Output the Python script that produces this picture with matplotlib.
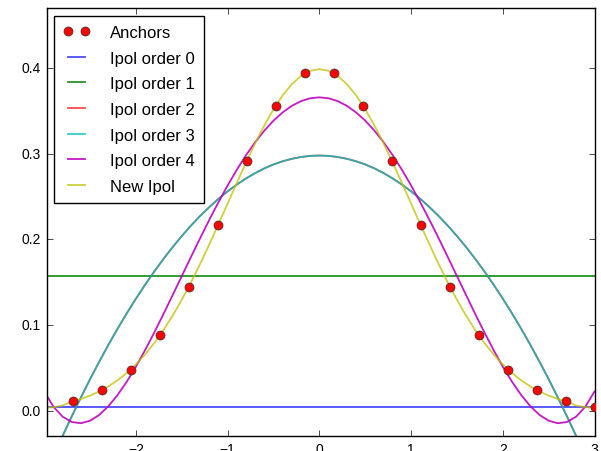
import numpy as np
import matplotlib
matplotlib.use("Agg")
import matplotlib.pyplot as plt

# anchor points
anchor_x = [-2.684, -2.368, -2.053, -1.737, -1.421, -1.105, -0.789, -0.474, -0.158,
            0.158, 0.474, 0.789, 1.105, 1.421, 1.737, 2.053, 2.368, 2.684, 3.0]
anchor_y = [0.011, 0.024, 0.048, 0.088, 0.145, 0.217, 0.292, 0.356, 0.394,
            0.394, 0.356, 0.292, 0.217, 0.145, 0.088, 0.048, 0.024, 0.011, 0.004]

# sample positions for the interpolation curves
curve_x = [-3.0, -2.9, -2.8, -2.7, -2.6, -2.5, -2.4, -2.3, -2.2, -2.1,
           -2.0, -1.9, -1.8, -1.7, -1.6, -1.5, -1.4, -1.3, -1.2, -1.1,
           -1.0, -0.9, -0.8, -0.7, -0.6, -0.5, -0.4, -0.3, -0.2, -0.1,
           0.0, 0.1, 0.2, 0.3, 0.4, 0.5, 0.6, 0.7, 0.8, 0.9,
           1.0, 1.1, 1.2, 1.3, 1.4, 1.5, 1.6, 1.7, 1.8, 1.9,
           2.0, 2.1, 2.2, 2.3, 2.4, 2.5, 2.6, 2.7, 2.8, 2.9, 3.0]

order0_level = 0.0044
order1_level = 0.157

# order 2 and order 3 coincide
order3_y = [-0.0782, -0.0535, -0.0297, -0.0067, 0.0154, 0.0368, 0.0572, 0.0769, 0.0957, 0.1137,
            0.1308, 0.1471, 0.1626, 0.1772, 0.1910, 0.2040, 0.2161, 0.2274, 0.2378, 0.2474,
            0.2562, 0.2641, 0.2712, 0.2775, 0.2830, 0.2876, 0.2913, 0.2942, 0.2963, 0.2976,
            0.2980, 0.2976, 0.2963, 0.2942, 0.2913, 0.2876, 0.2830, 0.2775, 0.2712, 0.2641,
            0.2562, 0.2474, 0.2378, 0.2274, 0.2161, 0.2040, 0.1910, 0.1772, 0.1626, 0.1471,
            0.1308, 0.1137, 0.0957, 0.0769, 0.0572, 0.0368, 0.0154, -0.0067, -0.0297, -0.0535, -0.0782]
order2_y = order3_y

order4_y = [0.0223, 0.0047, -0.0070, -0.0133, -0.0147, -0.0118, -0.0050, 0.0052, 0.0183, 0.0338,
            0.0514, 0.0707, 0.0913, 0.1128, 0.1349, 0.1572, 0.1795, 0.2015, 0.2229, 0.2435,
            0.2631, 0.2814, 0.2983, 0.3136, 0.3271, 0.3388, 0.3484, 0.3561, 0.3616, 0.3649,
            0.3660, 0.3649, 0.3616, 0.3561, 0.3484, 0.3388, 0.3271, 0.3136, 0.2983, 0.2814,
            0.2631, 0.2435, 0.2229, 0.2015, 0.1795, 0.1572, 0.1349, 0.1128, 0.0913, 0.0707,
            0.0514, 0.0338, 0.0183, 0.0052, -0.0050, -0.0118, -0.0147, -0.0133, -0.0070, 0.0047, 0.0223]

new_ipol_y = [0.0030, 0.0040, 0.0060, 0.0104, 0.0136, 0.0175, 0.0224, 0.0283, 0.0355, 0.0440,
              0.0540, 0.0656, 0.0790, 0.0940, 0.1109, 0.1295, 0.1497, 0.1714, 0.1942, 0.2179,
              0.2420, 0.2661, 0.2897, 0.3123, 0.3332, 0.3521, 0.3683, 0.3814, 0.3910, 0.3970,
              0.3989, 0.3970, 0.3910, 0.3814, 0.3683, 0.3521, 0.3332, 0.3123, 0.2897, 0.2661,
              0.2420, 0.2179, 0.1942, 0.1714, 0.1497, 0.1295, 0.1109, 0.0940, 0.0790, 0.0656,
              0.0540, 0.0440, 0.0355, 0.0283, 0.0224, 0.0175, 0.0136, 0.0104, 0.0060, 0.0040, 0.0030]

plt.style.use('classic')
plt.rcParams['font.family'] = ['Liberation Sans', 'DejaVu Sans']
plt.rcParams['figure.facecolor'] = 'white'
plt.rcParams['savefig.facecolor'] = 'white'

fig = plt.figure(figsize=(6.01, 4.52), dpi=100)
ax = fig.add_axes([0.0774, 0.0325, 0.9118, 0.9469])

lw = 1.3
ax.plot(anchor_x, anchor_y, 'ro', markersize=6.5, markeredgecolor='#333333',
        markeredgewidth=0.5, label='Anchors', zorder=5)
ax.axhline(order0_level, color='b', lw=lw, alpha=0.7, label='Ipol order 0')
ax.axhline(order1_level, color='g', lw=lw, alpha=0.85, label='Ipol order 1')
ax.plot(curve_x, order2_y, color='r', lw=lw, alpha=0.7, label='Ipol order 2')
ax.plot(curve_x, order3_y, color='c', lw=lw, alpha=0.8, label='Ipol order 3')
ax.plot(curve_x, order4_y, color='m', lw=lw, alpha=0.9, label='Ipol order 4')
ax.plot(curve_x, new_ipol_y, color='y', lw=lw, alpha=0.75, label='New Ipol')

ax.set_xlim(-2.975, 3.0)
ax.set_ylim(-0.03, 0.47)
ax.set_xticks([-2, -1, 0, 1, 2, 3])
ax.set_yticks([0.0, 0.1, 0.2, 0.3, 0.4])
ax.tick_params(labelsize=10)

ax.legend(loc='upper left', numpoints=2, fontsize=12, handlelength=1.6,
          handletextpad=1.2, labelspacing=0.64, borderpad=0.55, borderaxespad=0.45)

fig.savefig('out.png', dpi=100)
